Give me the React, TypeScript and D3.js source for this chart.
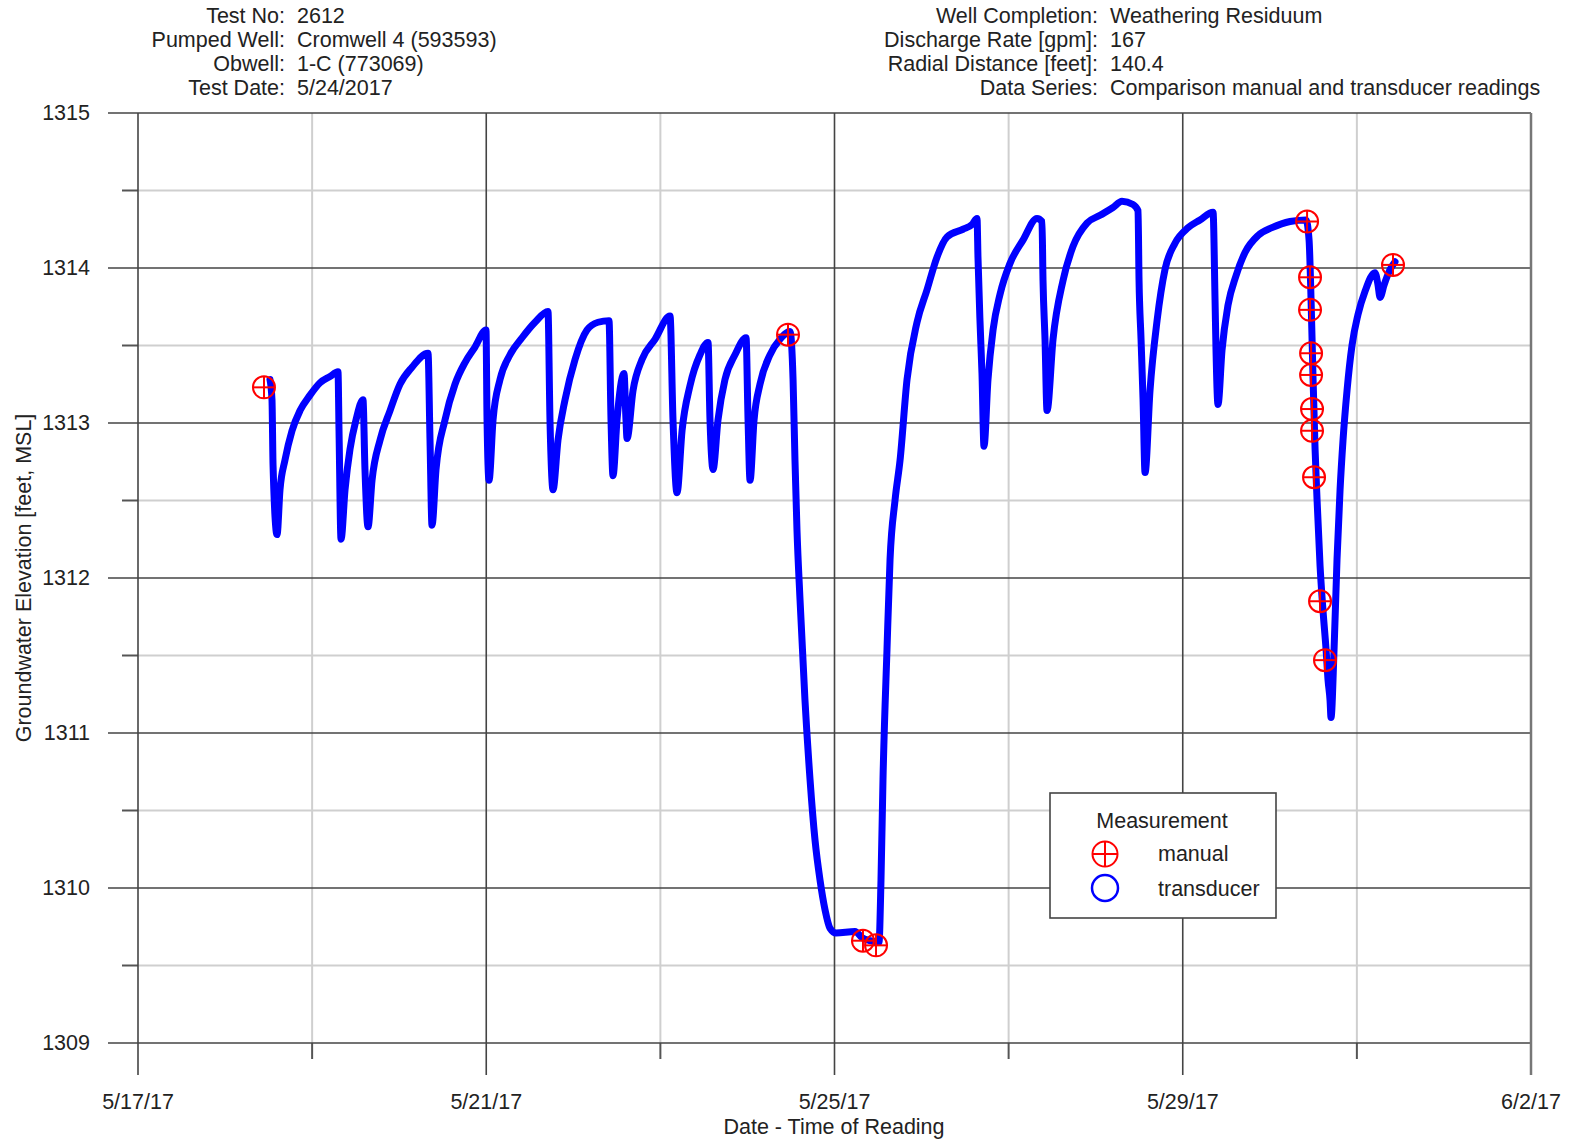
import React from "react";
import * as d3 from "d3";

const W = 1570, H = 1146;
const margin = { top: 113, right: 39, bottom: 103, left: 138 };
const FONT = "'Liberation Sans', Arial, sans-serif";
const FS = 21.5;

// header blocks: label / value
const headerLeftLabels = ["Test No:", "Pumped Well:", "Obwell:", "Test Date:"];
const headerLeftValues = ["2612", "Cromwell 4 (593593)", "1-C (773069)", "5/24/2017"];
const headerRightLabels = ["Well Completion:", "Discharge Rate [gpm]:", "Radial Distance [feet]:", "Data Series:"];
const headerRightValues = ["Weathering Residuum", "167", "140.4", "Comparison manual and transducer readings"];

// axes
const xMajorTicks = ["5/17/17", "5/21/17", "5/25/17", "5/29/17", "6/2/17"];
const xMinorTicks = ["5/19/17", "5/23/17", "5/27/17", "5/31/17"];
const yMajorTicks = [1309, 1310, 1311, 1312, 1313, 1314, 1315];
const yMinorTicks = [1309.5, 1310.5, 1311.5, 1312.5, 1313.5, 1314.5];

// transducer readings: [days since 5/17/17 00:00, elevation ft MSL]
const transducer: [number, number][] = [
  [1.516, 1313.28], [1.539, 1313.15], [1.551, 1312.73], [1.597, 1312.28], [1.631, 1312.57],
  [1.688, 1312.76], [1.769, 1312.95], [1.861, 1313.08], [1.976, 1313.18], [2.091, 1313.26],
  [2.205, 1313.30], [2.297, 1313.33], [2.309, 1312.95], [2.332, 1312.25], [2.378, 1312.57],
  [2.435, 1312.83], [2.504, 1313.02], [2.584, 1313.15], [2.607, 1312.70], [2.642, 1312.33],
  [2.688, 1312.63], [2.780, 1312.89], [2.895, 1313.08], [3.009, 1313.25], [3.147, 1313.36],
  [3.331, 1313.45], [3.354, 1312.89], [3.377, 1312.34], [3.423, 1312.70], [3.526, 1313.02],
  [3.641, 1313.25], [3.756, 1313.39], [3.871, 1313.49], [3.997, 1313.60], [4.009, 1313.02],
  [4.032, 1312.63], [4.078, 1313.02], [4.158, 1313.28], [4.273, 1313.44], [4.411, 1313.55],
  [4.560, 1313.65], [4.709, 1313.72], [4.732, 1313.02], [4.767, 1312.57], [4.824, 1312.89],
  [4.905, 1313.15], [5.020, 1313.41], [5.157, 1313.60], [5.284, 1313.65], [5.410, 1313.66],
  [5.433, 1313.02], [5.456, 1312.66], [5.502, 1313.02], [5.582, 1313.32], [5.605, 1313.02],
  [5.617, 1312.90], [5.686, 1313.21], [5.789, 1313.41], [5.938, 1313.54], [6.111, 1313.69],
  [6.145, 1313.02], [6.191, 1312.55], [6.249, 1312.95], [6.340, 1313.24], [6.455, 1313.44],
  [6.547, 1313.52], [6.570, 1313.02], [6.605, 1312.70], [6.662, 1313.02], [6.742, 1313.28],
  [6.857, 1313.44], [6.984, 1313.55], [7.007, 1313.02], [7.030, 1312.63], [7.076, 1313.02],
  [7.144, 1313.25], [7.259, 1313.44], [7.374, 1313.54], [7.489, 1313.59], [7.524, 1313.28],
  [7.546, 1312.76], [7.569, 1312.31], [7.604, 1311.86], [7.661, 1311.21], [7.719, 1310.70],
  [7.776, 1310.31], [7.834, 1310.05], [7.891, 1309.86], [7.949, 1309.74], [8.017, 1309.71],
  [8.236, 1309.72], [8.316, 1309.68], [8.408, 1309.66], [8.511, 1309.65], [8.534, 1310.05],
  [8.557, 1310.70], [8.603, 1311.54], [8.638, 1312.12], [8.695, 1312.50], [8.753, 1312.76],
  [8.833, 1313.28], [8.948, 1313.65], [9.063, 1313.86], [9.177, 1314.07], [9.292, 1314.20],
  [9.476, 1314.25], [9.580, 1314.28], [9.637, 1314.32], [9.648, 1314.07], [9.671, 1313.66],
  [9.694, 1313.32], [9.717, 1312.85], [9.763, 1313.28], [9.821, 1313.60], [9.901, 1313.83],
  [10.016, 1314.03], [10.165, 1314.18], [10.326, 1314.32], [10.383, 1314.30], [10.395, 1313.92],
  [10.418, 1313.54], [10.441, 1313.08], [10.510, 1313.54], [10.625, 1313.92], [10.740, 1314.14],
  [10.900, 1314.29], [11.050, 1314.34], [11.199, 1314.39], [11.302, 1314.43], [11.429, 1314.41],
  [11.486, 1314.37], [11.498, 1313.92], [11.521, 1313.54], [11.544, 1313.15], [11.567, 1312.68],
  [11.624, 1313.21], [11.705, 1313.66], [11.796, 1313.99], [11.911, 1314.16], [12.061, 1314.26],
  [12.198, 1314.31], [12.348, 1314.36], [12.371, 1313.79], [12.382, 1313.47], [12.405, 1313.12],
  [12.451, 1313.47], [12.520, 1313.76], [12.612, 1313.95], [12.715, 1314.10], [12.865, 1314.21],
  [13.025, 1314.26], [13.232, 1314.30], [13.416, 1314.31], [13.451, 1314.18], [13.474, 1313.79],
  [13.497, 1313.28], [13.520, 1312.83], [13.543, 1312.50], [13.577, 1312.08], [13.611, 1311.79],
  [13.646, 1311.54], [13.669, 1311.34], [13.692, 1311.21], [13.703, 1311.10], [13.738, 1311.54],
  [13.772, 1312.12], [13.807, 1312.57], [13.841, 1312.89], [13.887, 1313.21], [13.944, 1313.50],
  [14.013, 1313.70], [14.094, 1313.85], [14.208, 1313.97], [14.243, 1313.89], [14.266, 1313.81],
  [14.312, 1313.89], [14.381, 1313.99], [14.438, 1314.04],
];

// manual readings: [days since 5/17/17 00:00, elevation ft MSL]
const manual: [number, number][] = [
  [1.447, 1313.23], [7.466, 1313.57], [8.327, 1309.66], [8.477, 1309.63],
  [13.428, 1314.30], [13.462, 1313.94], [13.462, 1313.73], [13.474, 1313.45],
  [13.474, 1313.31], [13.485, 1313.09], [13.485, 1312.95], [13.508, 1312.65],
  [13.577, 1311.85], [13.634, 1311.47], [14.415, 1314.02],
];

const parseDate = d3.timeParse("%m/%d/%y");
const base = parseDate("5/17/17") as Date;
const toDate = (days: number) => new Date(base.getTime() + days * 864e5);

function ManualMarker({ cx, cy, r }: { cx: number; cy: number; r: number }) {
  return (
    <g stroke="#ff0000" strokeWidth={2} fill="none">
      <circle cx={cx} cy={cy} r={r} />
      <line x1={cx - r} x2={cx + r} y1={cy} y2={cy} />
      <line x1={cx} x2={cx} y1={cy - r} y2={cy + r} />
    </g>
  );
}

export default function App() {
  const x = d3.scaleTime()
    .domain([parseDate(xMajorTicks[0]) as Date, parseDate(xMajorTicks[xMajorTicks.length - 1]) as Date])
    .range([margin.left, W - margin.right]);
  const y = d3.scaleLinear().domain([1309, 1315]).range([H - margin.bottom, margin.top]);

  const line = d3.line<[number, number]>()
    .x(d => x(toDate(d[0])))
    .y(d => y(d[1]))
    .curve(d3.curveMonotoneX);

  const x0 = margin.left, x1 = W - margin.right;
  const y0 = margin.top, y1 = H - margin.bottom;
  const textFill = "#222";

  return (
    <svg width={W} height={H} style={{ position: "absolute", left: 0, top: 0, background: "#fff" }}
      fontFamily={FONT}>
      {/* header */}
      {headerLeftLabels.map((l, i) => (
        <g key={"hl" + i} fontSize={FS} fill={textFill}>
          <text x={285} y={16 + i * 24} textAnchor="end" dominantBaseline="central">{l}</text>
          <text x={297} y={16 + i * 24} dominantBaseline="central">{headerLeftValues[i]}</text>
        </g>
      ))}
      {headerRightLabels.map((l, i) => (
        <g key={"hr" + i} fontSize={FS} fill={textFill}>
          <text x={1098} y={16 + i * 24} textAnchor="end" dominantBaseline="central">{l}</text>
          <text x={1110} y={16 + i * 24} dominantBaseline="central">{headerRightValues[i]}</text>
        </g>
      ))}

      {/* minor grid */}
      {yMinorTicks.map(v => (
        <g key={"ym" + v}>
          <line x1={x0} x2={x1} y1={y(v)} y2={y(v)} stroke="#cfcfcf" strokeWidth={2} />
          <line x1={x0 - 16} x2={x0} y1={y(v)} y2={y(v)} stroke="#555" strokeWidth={2} />
        </g>
      ))}
      {xMinorTicks.map(t => {
        const px = x(parseDate(t) as Date);
        return (
          <g key={"xm" + t}>
            <line x1={px} x2={px} y1={y0} y2={y1} stroke="#cfcfcf" strokeWidth={2} />
            <line x1={px} x2={px} y1={y1} y2={y1 + 16} stroke="#555" strokeWidth={2} />
          </g>
        );
      })}

      {/* major grid */}
      {yMajorTicks.map(v => (
        <g key={"yM" + v}>
          <line x1={x0 - 30} x2={x1} y1={y(v)} y2={y(v)} stroke="#444" strokeWidth={1.6} />
          <text x={90} y={y(v)} textAnchor="end" dominantBaseline="central" fontSize={FS} fill={textFill}>{v}</text>
        </g>
      ))}
      {xMajorTicks.map((t, i) => {
        const px = x(parseDate(t) as Date);
        const last = i === xMajorTicks.length - 1;
        return (
          <g key={"xM" + t}>
            <line x1={px} x2={px} y1={y0} y2={y1 + 32} stroke={last ? "#777" : "#444"} strokeWidth={last ? 2.5 : 1.6} />
            <text x={px} y={1102} textAnchor="middle" dominantBaseline="central" fontSize={FS} fill={textFill}>{t}</text>
          </g>
        );
      })}

      {/* transducer trace */}
      <path d={line(transducer) ?? ""} fill="none" stroke="#0000ff" strokeWidth={7}
        strokeLinejoin="round" strokeLinecap="round" />

      {/* manual readings */}
      {manual.map((d, i) => (
        <ManualMarker key={"m" + i} cx={x(toDate(d[0]))} cy={y(d[1])} r={11} />
      ))}

      {/* legend */}
      <g>
        <rect x={1050} y={793} width={226} height={125} fill="#fff" stroke="#444" strokeWidth={1.6} />
        <text x={1162} y={821} textAnchor="middle" dominantBaseline="central" fontSize={FS} fill={textFill}>Measurement</text>
        <ManualMarker cx={1105} cy={854} r={12.5} />
        <text x={1158} y={854} dominantBaseline="central" fontSize={FS} fill={textFill}>manual</text>
        <circle cx={1105} cy={888} r={13} fill="none" stroke="#0000ff" strokeWidth={2.5} />
        <text x={1158} y={889} dominantBaseline="central" fontSize={FS} fill={textFill}>transducer</text>
      </g>

      {/* axis titles */}
      <text x={834} y={1127} textAnchor="middle" dominantBaseline="central" fontSize={FS} fill={textFill}>
        Date - Time of Reading
      </text>
      <text transform={`translate(24, 578) rotate(-90)`} textAnchor="middle" dominantBaseline="central"
        fontSize={FS} fill={textFill}>
        Groundwater Elevation [feet, MSL]
      </text>
    </svg>
  );
}
